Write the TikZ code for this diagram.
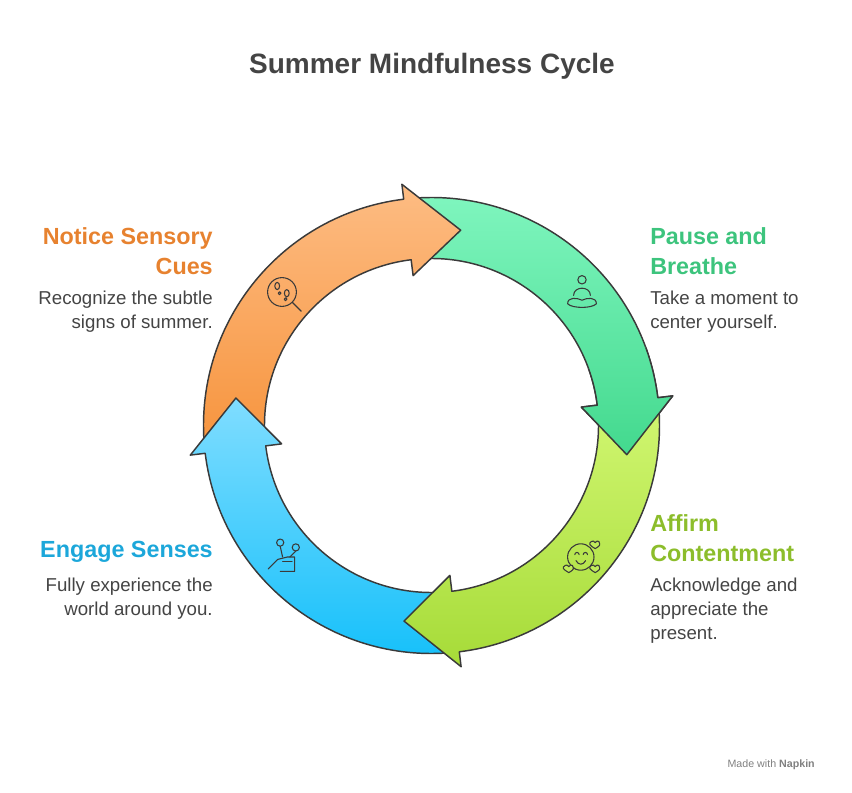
\documentclass[tikz,border=0pt]{standalone}
\usepackage{fontspec}
\setmainfont{Liberation Sans}
\usetikzlibrary{positioning}

\definecolor{orangeT}{HTML}{FDBC83}
\definecolor{orangeB}{HTML}{F7953F}
\definecolor{greenT}{HTML}{80F6BF}
\definecolor{greenB}{HTML}{43D98E}
\definecolor{limeT}{HTML}{D0F670}
\definecolor{limeB}{HTML}{A6DB38}
\definecolor{blueT}{HTML}{80DDFF}
\definecolor{blueB}{HTML}{15C0FA}
\definecolor{orangeTx}{HTML}{E7822F}
\definecolor{greenTx}{HTML}{3DC47D}
\definecolor{limeTx}{HTML}{8CBD2B}
\definecolor{blueTx}{HTML}{1CA7DA}
\definecolor{bodyTx}{HTML}{444444}
\definecolor{edge}{HTML}{3A3A3A}

\tikzset{
  seg/.style={draw=edge, line width=1.1pt, line join=round},
  head/.style={font=\bfseries\fontsize{17.5}{22}\selectfont, inner sep=0pt},
  desc/.style={font=\fontsize{14}{18}\selectfont, text=bodyTx, inner sep=0pt},
  icon/.style={draw=edge, line width=0.8pt, line cap=round, line join=round, scale=1.2}
}

\newcommand{\greenArrow}{\path[seg, top color=greenT, bottom color=greenB]
  (94:228) arc[start angle=94, end angle=7, radius=228] -- (7:243) -- (-8.5:197.5)
  -- (7:151) -- (7:167) arc[start angle=7, end angle=94, radius=167] -- cycle;}

\begin{document}
\begin{tikzpicture}[x=0.75pt, y=0.75pt]
\useasboundingbox (-431.5,-366.5) rectangle (420.5,425.5);

% Arrows (green, orange, blue, lime; then green head again)
\greenArrow
\path[seg, top color=orangeT, bottom color=orangeB]
  (184:228) arc[start angle=184, end angle=97, radius=228] -- (97:243) -- (81.5:197.5)
  -- (97:151) -- (97:167) arc[start angle=97, end angle=184, radius=167] -- cycle;
\path[seg, top color=blueT, bottom color=blueB]
  (-86:228) arc[start angle=-86, end angle=-173, radius=228] -- (-173:243) -- (-188:197.5)
  -- (-173:151) -- (-173:167) arc[start angle=-173, end angle=-86, radius=167] -- cycle;
\path[seg, top color=limeT, bottom color=limeB]
  (4:228) arc[start angle=4, end angle=-83, radius=228] -- (-83:243) -- (-98:197.5)
  -- (-83:151) -- (-83:167) arc[start angle=-83, end angle=4, radius=167] -- cycle;
\begin{scope}
  \clip (0,0) -- (20:300) -- (-25:300) -- cycle;
  \greenArrow
\end{scope}

% Icons
\begin{scope}[shift={(-149.5,133.5)}]
  \draw[icon] (0,0) circle (12);
  \draw[icon] (8.5,-8.5) -- (16,-16);
  \draw[icon] (-4,5) ellipse (2 and 3) (-2,-1) circle (1.2);
  \draw[icon] (4,-1) ellipse (2 and 3) (3,-6) circle (1.2);
\end{scope}
\begin{scope}[shift={(150.5,132.5)}]
  \draw[icon] (0,11) circle (3.5);
  \draw[icon] (-7,-2) .. controls (-7,6) and (7,6) .. (7,-2);
  \draw[icon] (-12,-9) .. controls (-12,-3) and (-4,-4) .. (0,-6) .. controls (4,-4) and (12,-3) .. (12,-9)
    .. controls (8,-13) and (-8,-13) .. (-12,-9);
\end{scope}
\begin{scope}[shift={(150.5,-131.5)}]
  \draw[icon] (-1,0) circle (11);
  \draw[icon] (-6,2) arc[start angle=180, end angle=0, radius=1.8];
  \draw[icon] (1,2) arc[start angle=180, end angle=0, radius=1.8];
  \draw[icon] (-5,-3) .. controls (-3,-7) and (1,-7) .. (3,-3);
  \foreach \p in {(11,10),(-11,-10),(11,-10)}
    \draw[icon, fill=limeT!60!limeB] \p ++(0,-3) .. controls ++(-5,3) and ++(-3,-2) .. ++(-3,6)
      .. controls ++(1,1) and ++(-1,1) .. ++(3,-1) .. controls ++(1,1) and ++(-1,1) .. ++(3,1)
      .. controls ++(1,-3) and ++(5,3) .. ++(-3,-6);
\end{scope}
\begin{scope}[shift={(-146.5,-131.5)}]
  \draw[icon] (-4,12) circle (3) (9,8) circle (3);
  \draw[icon] (-4,9) -- (-2,0) (9,5) -- (4,0);
  \draw[icon] (-14,-10) -- (-6,-2) -- (2,0) -- (8,0) -- (8,-12) -- (-4,-12);
  \draw[icon] (-2,-4) -- (6,-4);
\end{scope}

% Title
\node[font=\bfseries\fontsize{21}{24}\selectfont, text=bodyTx, inner sep=0pt] (title) at (0.5,359.5) {Summer Mindfulness Cycle};

% Step texts
\node[head, text=orangeTx, align=right, anchor=north east] (noticeH) at (-218.5,198) {Notice Sensory\\Cues};
\node[desc, align=right, anchor=north east] (noticeD) at (-218.5,134.5) {Recognize the subtle\\signs of summer.};
\node[head, text=greenTx, align=left, anchor=north west] (pauseH) at (218.5,198) {Pause and\\Breathe};
\node[desc, align=left, anchor=north west] (pauseD) at (218.5,134.5) {Take a moment to\\center yourself.};
\node[head, text=limeTx, align=left, anchor=north west] (affirmH) at (218.5,-89) {Affirm\\Contentment};
\node[desc, align=left, anchor=north west] (affirmD) at (218.5,-152.5) {Acknowledge and\\appreciate the\\present.};
\node[head, text=blueTx, align=right, anchor=north east] (engageH) at (-218.5,-115) {Engage Senses};
\node[desc, align=right, anchor=north east] (engageD) at (-218.5,-152.5) {Fully experience the\\world around you.};

% Footer
\node[font=\fontsize{8}{10}\selectfont, text=gray, anchor=east, inner sep=0pt] (made) at (383.5,-339.5) {Made with \textbf{Napkin}};
\end{tikzpicture}
\end{document}
